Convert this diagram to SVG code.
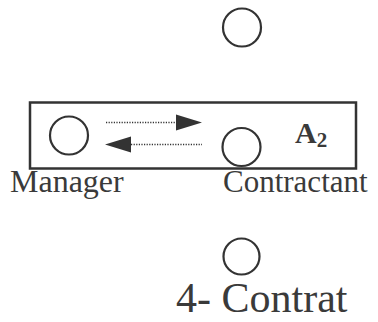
<svg xmlns="http://www.w3.org/2000/svg" width="378" height="322" viewBox="0 0 378 322">
  <style>
    .node { fill: none; stroke: #333; stroke-width: 2.2; }
    .frame { fill: none; stroke: #333; stroke-width: 2.5; }
    .label { font-family: "Liberation Serif", "DejaVu Serif", serif; fill: #3a3a3a; }
    .flow { stroke: #333; stroke-width: 1.6; stroke-dasharray: 1.2 1.4; fill: none; }
    .head { fill: #333; }
  </style>
  <rect width="378" height="322" fill="#fff"/>

  <g id="top-agent">
    <circle class="node" cx="242" cy="27.5" r="19"/>
  </g>

  <g id="group-a2">
    <rect class="frame" x="30" y="102.5" width="326" height="66"/>
    <text class="label" x="295" y="143" font-size="30" font-weight="bold">A<tspan font-size="21" dy="4">2</tspan></text>
  </g>

  <g id="manager">
    <circle class="node" cx="69" cy="135.5" r="19"/>
    <text class="label" x="10" y="192" font-size="32">Manager</text>
  </g>

  <g id="contractant">
    <circle class="node" cx="241.5" cy="147" r="19"/>
    <text class="label" x="223" y="192" font-size="31">Contractant</text>
  </g>

  <g id="bottom-agent">
    <circle class="node" cx="241.5" cy="256.5" r="18"/>
    <text class="label" x="176" y="312" font-size="42">4- Contrat</text>
  </g>

  <g id="connectors">
    <line class="flow" x1="106" y1="122.5" x2="177" y2="122.5"/>
    <polygon class="head" points="176,114.5 202,122.5 176,130.5"/>
    <line class="flow" x1="131" y1="144.5" x2="202" y2="144.5"/>
    <polygon class="head" points="131,136.5 105,144.5 131,152.5"/>
  </g>
</svg>
